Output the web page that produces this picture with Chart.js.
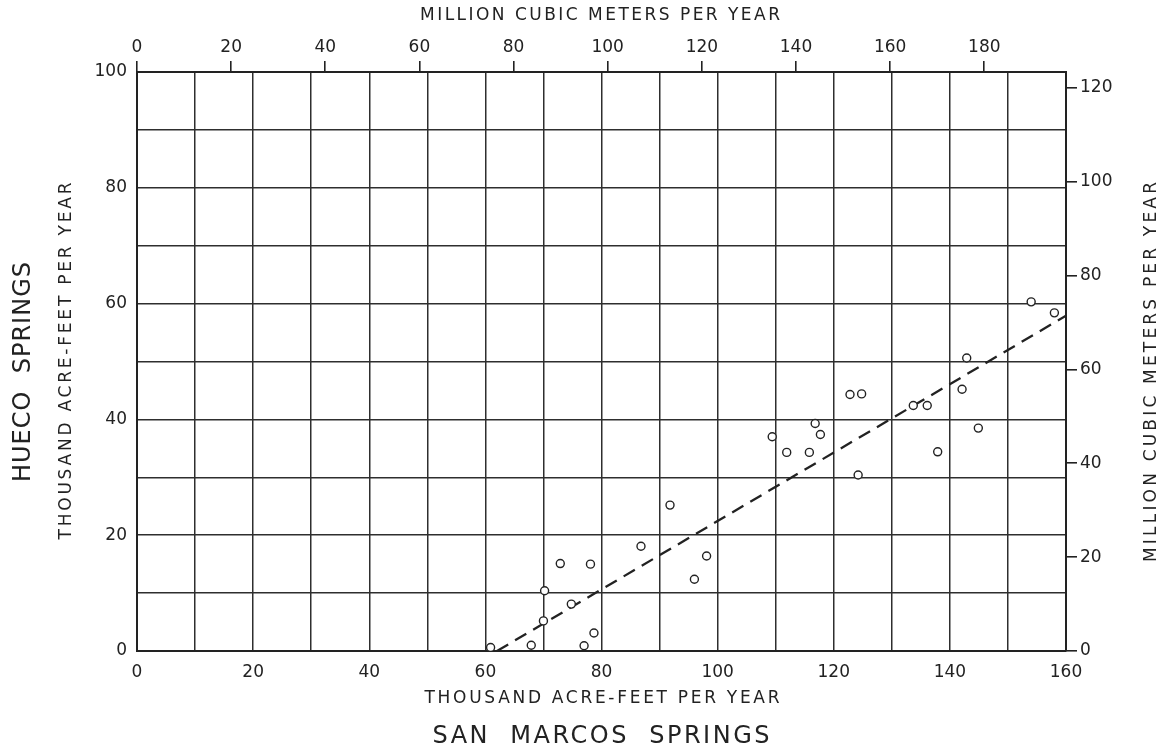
<!DOCTYPE html>
<html>
<head>
<meta charset="utf-8">
<script src="https://cdn.jsdelivr.net/npm/chart.js@4.4.1/dist/chart.umd.min.js"></script>
<style>
  body { margin: 0; background: #fff; }
  #wrap { width: 1168px; height: 750px; position: relative; }
</style>
</head>
<body>
<div id="wrap"><canvas id="chart"></canvas></div>
<script>
// San Marcos Springs (x) vs Hueco Springs (y), thousand acre-feet per year
const sanMarcos = [60.9, 67.9, 70.0, 70.2, 72.9, 78.1, 74.8, 78.7, 77.0, 86.8, 91.8, 98.1, 96.0,
  109.4, 111.9, 115.8, 116.8, 117.7, 122.8, 124.8, 124.2, 133.7, 136.1, 137.9, 142.1, 144.9,
  142.9, 154.0, 158.0];
const hueco = [0.6, 1.0, 5.2, 10.4, 15.1, 15.0, 8.1, 3.1, 0.9, 18.1, 25.2, 16.4, 12.4,
  37.0, 34.3, 34.3, 39.3, 37.4, 44.3, 44.4, 30.4, 42.4, 42.4, 34.4, 45.2, 38.5,
  50.6, 60.3, 58.4];

// fitted line end points
const lineX = [62, 160];
const lineY = [0, 57.9];

// unit conversion: 1 thousand acre-feet = 1.2335 million cubic meters
const MCM_PER_TAF = 1.2335;
const xMax = 160, yMax = 100;

const points = sanMarcos.map((x, i) => ({ x: x, y: hueco[i] }));
const trend = lineX.map((x, i) => ({ x: x, y: lineY[i] }));

const ink = '#222';
const tickFont = { family: 'DejaVu Sans', size: 17 };

function fixSize(prop, val) {
  return function (scale) { scale[prop] = val; };
}

function drawSpaced(ctx, text, cx, cy, size, width, rot) {
  ctx.save();
  ctx.font = size + 'px "DejaVu Sans"';
  ctx.letterSpacing = '0px';
  const w0 = ctx.measureText(text).width;
  const sp = (width - w0) / (text.length - 1);
  ctx.letterSpacing = sp + 'px';
  ctx.translate(cx, cy);
  if (rot) ctx.rotate(rot);
  ctx.fillStyle = ink;
  ctx.textAlign = 'left';
  ctx.textBaseline = 'middle';
  ctx.fillText(text, -width / 2, 0);
  ctx.restore();
}

const titles = {
  id: 'titles',
  afterDraw(chart) {
    const ctx = chart.ctx;
    drawSpaced(ctx, 'MILLION CUBIC METERS PER YEAR', 600, 16, 17, 360, 0);
    drawSpaced(ctx, 'THOUSAND ACRE-FEET PER YEAR', 602, 699, 17, 355, 0);
    drawSpaced(ctx, 'SAN  MARCOS  SPRINGS', 601, 737, 24, 337, 0);
    drawSpaced(ctx, 'HUECO  SPRINGS', 24, 372, 24, 220, -Math.PI / 2);
    drawSpaced(ctx, 'THOUSAND ACRE-FEET PER YEAR', 67, 361, 17, 357, -Math.PI / 2);
    drawSpaced(ctx, 'MILLION CUBIC METERS PER YEAR', 1152, 372, 17, 380, -Math.PI / 2);
  }
};

new Chart(document.getElementById('chart'), {
  type: 'scatter',
  data: {
    datasets: [
      {
        data: points,
        pointStyle: 'circle',
        pointRadius: 4,
        pointBorderWidth: 1.4,
        borderColor: ink,
        backgroundColor: '#fff'
      },
      {
        type: 'line',
        data: trend,
        borderColor: ink,
        borderWidth: 2.3,
        borderDash: [13, 8],
        pointRadius: 0,
        fill: false
      }
    ]
  },
  options: {
    responsive: true,
    maintainAspectRatio: false,
    animation: false,
    layout: { padding: 0 },
    plugins: { legend: { display: false }, tooltip: { enabled: false } },
    scales: {
      x: {
        type: 'linear', position: 'bottom', min: 0, max: xMax,
        afterFit: fixSize('height', 99),
        grid: { color: '#2e2e2e', lineWidth: 1.5, drawTicks: false },
        border: { color: ink, width: 2 },
        ticks: {
          stepSize: 10, padding: 11, color: ink, font: tickFont, maxRotation: 0,
          autoSkip: false,
          callback: v => (v % 20 === 0 ? v : '')
        }
      },
      y: {
        type: 'linear', position: 'left', min: 0, max: yMax,
        afterFit: fixSize('width', 137),
        grid: { color: '#2e2e2e', lineWidth: 1.5, drawTicks: false },
        border: { color: ink, width: 2 },
        ticks: {
          stepSize: 10, padding: 10, color: ink, font: tickFont, autoSkip: false,
          callback: v => (v % 20 === 0 ? v : '')
        }
      },
      x2: {
        type: 'linear', position: 'top', min: 0, max: xMax * MCM_PER_TAF,
        afterFit: fixSize('height', 72),
        grid: { drawOnChartArea: false, drawTicks: true, tickLength: 11, color: ink, lineWidth: 1.6 },
        border: { color: ink, width: 2 },
        ticks: { stepSize: 20, includeBounds: false, padding: 3, color: ink, font: tickFont, maxRotation: 0, autoSkip: false }
      },
      y2: {
        type: 'linear', position: 'right', min: 0, max: yMax * MCM_PER_TAF,
        afterFit: fixSize('width', 102),
        grid: { drawOnChartArea: false, drawTicks: true, tickLength: 11, color: ink, lineWidth: 1.6 },
        border: { color: ink, width: 2 },
        ticks: { stepSize: 20, includeBounds: false, padding: 3, color: ink, font: tickFont, autoSkip: false }
      }
    }
  },
  plugins: [titles]
});
</script>
</body>
</html>
